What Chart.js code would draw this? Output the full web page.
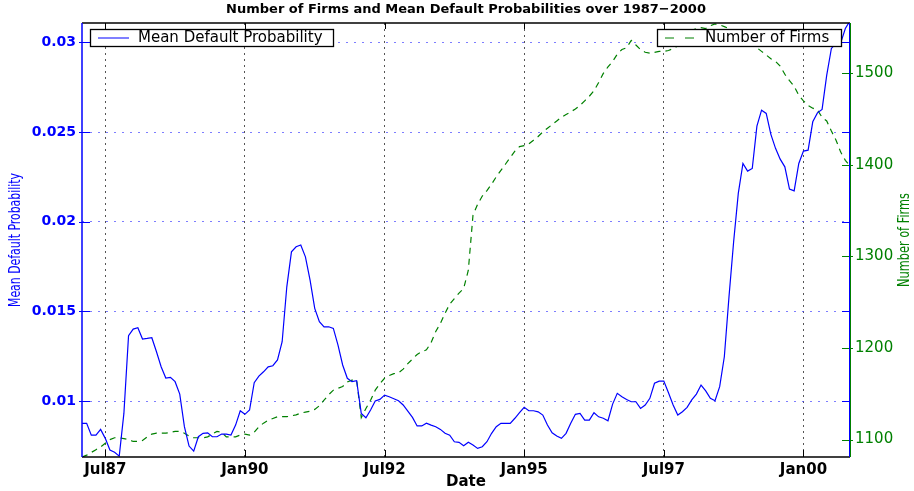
<!DOCTYPE html>
<html>
<head>
<meta charset="utf-8">
<script src="https://cdn.jsdelivr.net/npm/chart.js@4.4.0/dist/chart.umd.min.js"></script>
<style>
  html, body { margin: 0; padding: 0; background: #fff; }
  canvas { display: block; }
</style>
</head>
<body>
<canvas id="firmsChart" width="914" height="491"></canvas>
<script>
// ----------- Data ------------
const startYear = 1987;
const startMonth = 1; // February
const monthNames = ["Jan", "Feb", "Mar", "Apr", "May", "Jun", "Jul", "Aug", "Sep", "Oct", "Nov", "Dec"];
const tickLabels = ["Jul87", "Jan90", "Jul92", "Jan95", "Jul97", "Jan00"];
const leftTicks = [0.01, 0.015, 0.02, 0.025, 0.03];
const rightTicks = [1100, 1200, 1300, 1400, 1500];

const defaultProb = [
  0.00876, 0.00876, 0.00810, 0.00810, 0.00842, 0.00792, 0.00727, 0.00714, 0.00693, 0.00931,
  0.01364, 0.01401, 0.01409, 0.01346, 0.01349, 0.01353, 0.01275, 0.01191, 0.01128, 0.01132,
  0.01108, 0.01039, 0.00857, 0.00749, 0.00721, 0.00801, 0.00820, 0.00823, 0.00801, 0.00801,
  0.00816, 0.00816, 0.00810, 0.00866, 0.00946, 0.00926, 0.00950, 0.01102, 0.01139, 0.01163,
  0.01191, 0.01197, 0.01229, 0.01331, 0.01637, 0.01832, 0.01860, 0.01870, 0.01804, 0.01674,
  0.01517, 0.01442, 0.01414, 0.01414, 0.01405, 0.01312, 0.01201, 0.01127, 0.01108, 0.01113,
  0.00931, 0.00907, 0.00950, 0.01000, 0.01009, 0.01033, 0.01024, 0.01013, 0.01002, 0.00978,
  0.00944, 0.00909, 0.00861, 0.00861, 0.00876, 0.00866, 0.00857, 0.00842, 0.00820, 0.00810,
  0.00773, 0.00770, 0.00751, 0.00770, 0.00755, 0.00736, 0.00745, 0.00773, 0.00820, 0.00857,
  0.00876, 0.00876, 0.00876, 0.00904, 0.00935, 0.00965, 0.00946, 0.00946, 0.00940, 0.00922,
  0.00866, 0.00823, 0.00805, 0.00792, 0.00820, 0.00876, 0.00926, 0.00931, 0.00894, 0.00894,
  0.00935, 0.00912, 0.00904, 0.00890, 0.00983, 0.01043, 0.01024, 0.01009, 0.00996, 0.00996,
  0.00959, 0.00978, 0.01015, 0.01099, 0.01111, 0.01111, 0.01046, 0.00978, 0.00922, 0.00940,
  0.00965, 0.01006, 0.01039, 0.01089, 0.01057, 0.01015, 0.01002, 0.01080, 0.01247, 0.01581,
  0.01888, 0.02158, 0.02325, 0.02282, 0.02297, 0.02533, 0.02622, 0.02604, 0.02487, 0.02409,
  0.02349, 0.02306, 0.02182, 0.02172, 0.02325, 0.02394, 0.02399, 0.02557, 0.02607, 0.02626,
  0.02817, 0.02966, 0.02994, 0.02997, 0.03077, 0.03120
];

const numFirms = [
  1081, 1083, 1086, 1089, 1092, 1096, 1100, 1102, 1102, 1101,
  1100, 1098, 1098, 1099, 1103, 1106, 1107, 1107, 1107, 1108,
  1109, 1109, 1107, 1104, 1102, 1102, 1102, 1103, 1106, 1109,
  1108, 1103, 1103, 1103, 1105, 1106, 1105, 1108, 1114, 1118,
  1121, 1123, 1125, 1125, 1125, 1126, 1127, 1129, 1130, 1131,
  1133, 1137, 1143, 1149, 1154, 1156, 1158, 1163, 1165, 1165,
  1124, 1134, 1143, 1154, 1161, 1167, 1170, 1172, 1173, 1177,
  1183, 1188, 1193, 1196, 1198, 1206, 1218, 1227, 1238, 1248,
  1254, 1260, 1265, 1285, 1345, 1357, 1366, 1372, 1379, 1387,
  1394, 1401, 1408, 1415, 1420, 1421, 1423, 1427, 1431, 1436,
  1440, 1444, 1448, 1452, 1455, 1458, 1461, 1465, 1470, 1475,
  1481, 1490, 1500, 1507, 1513, 1521, 1526, 1528, 1536, 1531,
  1526, 1523, 1522, 1523, 1524, 1524, 1525, 1527, 1530, 1537,
  1543, 1547, 1549, 1550, 1549, 1552, 1554, 1553, 1551, 1549,
  1546, 1543, 1540, 1536, 1532, 1528, 1524, 1520, 1516, 1513,
  1508, 1499, 1492, 1486, 1476, 1470, 1465, 1462, 1460, 1452,
  1448, 1437, 1427, 1414, 1405, 1399
];

// month labels Feb87 .. Nov00
const dates = [];
for (let k = 0; k < defaultProb.length; k++) {
  const m = (startMonth + k) % 12;
  const yr = startYear + Math.floor((startMonth + k) / 12);
  dates.push(monthNames[m] + String(yr).slice(2));
}

const BLUE = "#0000ff";
const GREEN = "#008000";
const FONT = '"DejaVu Sans", sans-serif';

function seg(ctx, x1, y1, x2, y2) {
  ctx.beginPath();
  ctx.moveTo(x1, y1);
  ctx.lineTo(x2, y2);
  ctx.stroke();
}

function legendBox(ctx, x, y, w, h, ds, dash) {
  ctx.fillStyle = "#fff";
  ctx.fillRect(x, y, w, h);
  ctx.strokeStyle = "#000";
  ctx.lineWidth = 1.3;
  ctx.strokeRect(x + 0.5, y + 0.5, w, h);
  ctx.setLineDash(dash);
  ctx.strokeStyle = ds.borderColor;
  ctx.lineWidth = 1;
  seg(ctx, x + 8, y + h / 2 + 0.5, x + 39, y + h / 2 + 0.5);
  ctx.setLineDash([]);
  ctx.fillStyle = "#000";
  ctx.font = "15px " + FONT;
  ctx.textAlign = "left";
  ctx.textBaseline = "middle";
  ctx.fillText(ds.label, x + 48, y + h / 2 + 1);
}

// rotated axis title squeezed to the length seen in the picture
function sideTitle(ctx, text, x, y, len, color) {
  ctx.save();
  ctx.font = "16px " + FONT;
  ctx.fillStyle = color;
  ctx.textAlign = "center";
  ctx.textBaseline = "middle";
  ctx.translate(x, y);
  ctx.rotate(-Math.PI / 2);
  ctx.scale(len / ctx.measureText(text).width, 1);
  ctx.fillText(text, 0, 0);
  ctx.restore();
}

// frame, inward ticks, legends and titles drawn MATLAB style
const matlabFrame = {
  id: "matlabFrame",
  afterDatasetsDraw(chart) {
    const { ctx, chartArea: a, scales } = chart;
    ctx.save();
    ctx.lineWidth = 1;
    ctx.strokeStyle = "#000";
    scales.x.ticks.forEach((t, i) => {
      const x = Math.round(scales.x.getPixelForTick(i)) + 0.5;
      seg(ctx, x, a.bottom, x, a.bottom - 7);
      seg(ctx, x, a.top, x, a.top + 6);
    });
    ctx.strokeStyle = BLUE;
    scales.y.ticks.forEach((t) => {
      const y = Math.round(scales.y.getPixelForValue(t.value)) + 0.5;
      seg(ctx, a.left - 3, y, a.left + 8, y);
      seg(ctx, a.right - 8, y, a.right, y);
    });
    ctx.strokeStyle = GREEN;
    scales.y1.ticks.forEach((t) => {
      const y = Math.round(scales.y1.getPixelForValue(t.value)) + 0.5;
      seg(ctx, a.right - 8, y, a.right + 3, y);
    });
    // box
    ctx.lineWidth = 1.5;
    ctx.strokeStyle = "#000";
    seg(ctx, a.left, a.top, a.right, a.top);
    seg(ctx, a.left, a.bottom, a.right, a.bottom);
    ctx.strokeStyle = BLUE;
    seg(ctx, a.left, a.top, a.left, a.bottom);
    ctx.lineWidth = 1;
    seg(ctx, a.right - 0.5, a.top, a.right - 0.5, a.bottom);
    ctx.strokeStyle = GREEN;
    seg(ctx, a.right + 0.5, a.top, a.right + 0.5, a.bottom);

    // legends
    const ds = chart.data.datasets;
    legendBox(ctx, 90, 29, 243, 17, ds[0], []);
    legendBox(ctx, 657, 29, 184, 17, ds[1], [9, 11]);
    ctx.restore();
  },
  afterDraw(chart) {
    const { ctx, chartArea: a } = chart;
    const cx = (a.left + a.right) / 2;
    const cy = (a.top + a.bottom) / 2;
    ctx.save();
    ctx.fillStyle = "#000";
    ctx.textAlign = "center";
    ctx.textBaseline = "middle";
    ctx.font = "bold 13px " + FONT;
    ctx.fillText("Number of Firms and Mean Default Probabilities over 1987\u22122000", cx, 10);
    ctx.font = "bold 15px " + FONT;
    ctx.fillText("Date", cx, 482);
    ctx.restore();
    sideTitle(ctx, "Mean Default Probability", 16, cy, 134, BLUE);
    sideTitle(ctx, "Number of Firms", 905, cy, 94, GREEN);
  }
};

// ----------- Chart Setup ------------
const ctx = document.getElementById("firmsChart");
new Chart(ctx, {
  type: "line",
  data: {
    labels: dates,
    datasets: [
      {
        label: "Mean Default Probability",
        data: defaultProb,
        yAxisID: "y",
        borderColor: BLUE,
        borderWidth: 1.2,
        pointRadius: 0,
        tension: 0,
      },
      {
        label: "Number of Firms",
        data: numFirms,
        yAxisID: "y1",
        borderColor: GREEN,
        borderWidth: 1.2,
        borderDash: [6, 5],
        pointRadius: 0,
        tension: 0,
      },
    ],
  },
  options: {
    responsive: false,
    animation: false,
    events: [],
    layout: { padding: { top: 23, left: 0, right: 0, bottom: 0 } },
    plugins: {
      legend: { display: false },
      title: { display: false },
      tooltip: { enabled: false },
    },
    scales: {
      x: {
        type: "category",
        offset: false,
        afterBuildTicks: (s) => {
          s.ticks = s.ticks.filter((t) => tickLabels.includes(dates[t.value]));
        },
        afterFit: (s) => { s.height = 34; },
        grid: { color: "#555", lineWidth: 1, drawTicks: false },
        border: { display: false, dash: [2, 4] },
        ticks: {
          autoSkip: false,
          maxRotation: 0,
          padding: 4,
          color: "#000",
          font: { family: FONT, size: 15, weight: "bold" },
        },
      },
      y: {
        position: "left",
        min: 0.00688,
        max: 0.03108,
        afterBuildTicks: (s) => { s.ticks = leftTicks.map((v) => ({ value: v })); },
        afterFit: (s) => { s.width = 82; },
        grid: { color: "rgba(70,70,255,0.7)", lineWidth: 1, drawTicks: false },
        border: { display: false, dash: [2, 6] },
        ticks: {
          padding: 6,
          color: BLUE,
          font: { family: FONT, size: 14, weight: "bold" },
          callback: (v) => String(v),
        },
      },
      y1: {
        position: "right",
        min: 1081,
        max: 1555,
        afterBuildTicks: (s) => { s.ticks = rightTicks.map((v) => ({ value: v })); },
        afterFit: (s) => { s.width = 64; },
        grid: { display: false, drawTicks: false },
        border: { display: false },
        ticks: {
          padding: 5,
          color: GREEN,
          font: { family: FONT, size: 15 },
          callback: (v) => String(v),
        },
      },
    },
  },
  plugins: [matlabFrame],
});
</script>
</body>
</html>
